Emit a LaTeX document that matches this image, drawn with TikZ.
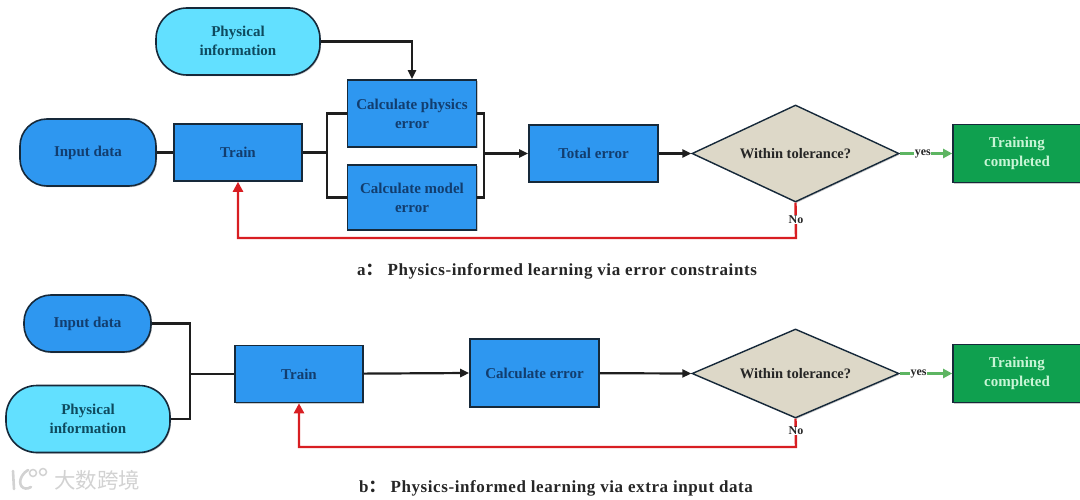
\documentclass[tikz,border=0pt]{standalone}
\usepackage{fontspec}
\setmainfont{Liberation Serif}
\newfontfamily\cjk{Noto Sans CJK SC}
\newfontfamily\capfont[LetterSpace=3.5]{Liberation Serif}
\usetikzlibrary{arrows.meta,shapes.geometric,shadows}
\definecolor{bluefill}{HTML}{2E97F0}
\definecolor{cyanfill}{HTML}{62E0FF}
\definecolor{tanfill}{HTML}{DDD8C8}
\definecolor{greenfill}{HTML}{0FA04F}
\definecolor{edgedark}{HTML}{16293A}
\definecolor{bluetext}{HTML}{123D6E}
\definecolor{cyantext}{HTML}{0E4A5E}
\definecolor{greentext}{HTML}{C9F5D6}
\definecolor{redline}{HTML}{D81E22}
\definecolor{greenline}{HTML}{5DB562}
\definecolor{darkline}{HTML}{1E1E1E}
\definecolor{markgray}{HTML}{D2D2D2}
\tikzset{
  soft/.style={drop shadow={shadow xshift=1pt,shadow yshift=-1.2pt,opacity=.35,fill=black!60}},
  base/.style={draw=edgedark,line width=1.6pt,align=center,inner sep=0pt,
    font=\fontsize{15}{19}\selectfont\bfseries,soft},
  bluebox/.style={base,fill=bluefill,text=bluetext,minimum width=128pt},
  greenbox/.style={base,fill=greenfill,text=greentext,minimum width=128pt,minimum height=58pt},
  bluepill/.style={base,fill=bluefill,text=bluetext,rounded corners=27pt},
  cyanpill/.style={base,fill=cyanfill,text=cyantext,rounded corners=31pt,minimum width=164pt,minimum height=67pt},
  decision/.style={diamond,draw=edgedark,line width=1.4pt,fill=tanfill,text=black!85,inner sep=0pt,
    font=\fontsize{14.5}{16}\selectfont\bfseries,minimum width=207pt,soft},
  captiontext/.style={font=\fontsize{17}{18}\selectfont\bfseries\capfont,text=black!85,inner sep=0pt},
  tag/.style={font=\fontsize{12}{13}\selectfont\bfseries,text=black!85,inner sep=0.5pt,fill=white},
  link/.style={draw=darkline,line width=2.2pt},
  flow/.style={link,-{Triangle[length=9pt,width=8pt]}},
  backflow/.style={draw=redline,line width=2.4pt,-{Triangle[length=10pt,width=10pt]}},
  okflow/.style={draw=greenline,line width=2.2pt,-{Triangle[length=9pt,width=9pt]}},
}
\begin{document}
\begin{tikzpicture}[x=1pt,y=-1pt]
\useasboundingbox (0,0) rectangle (1080,500);
% panel a
\node[cyanpill] (pa) at (238,41.5) {\raisebox{1pt}{Physical}\\\raisebox{1pt}{information}};
\node[bluepill,minimum width=136pt,minimum height=67pt] (ia) at (88,152.5) {\raisebox{-1pt}{Input data}};
\node[bluebox,minimum height=57pt] (ta) at (238,152.5) {Train};
\node[bluebox,minimum height=67pt,minimum width=129pt] (ce) at (412,113.5) {Calculate physics\\error};
\node[bluebox,minimum height=65pt,minimum width=129pt] (me) at (412,197.5) {Calculate model\\error};
\node[bluebox,minimum height=57pt,minimum width=129pt] (te) at (593.5,153.5) {Total error};
\node[decision,minimum height=97pt] (da) at (795.5,153.5) {\makebox[0pt]{Within tolerance?}};
\node[greenbox] (ga) at (1017,153.5) {\raisebox{-2pt}{Training}\\\raisebox{-2pt}{completed}};
\coordinate (la) at (327,152.5);
\coordinate (ra) at (484,153.5);
\coordinate (ca) at (796,238);
\coordinate (cta) at (412,41.5);
\draw[link] (ia) -- (ta);
\draw[link] (ta) -- (la);
\draw[link] (ce.west) -| (la) |- (me.west);
\draw[link] (ce.east) -| (ra) |- (me.east);
\draw[flow] (ra) -- (te.west);
\draw[flow] (te) -- (da.west);
\draw[flow] (pa.east) -- (cta) -- (ce.north);
\draw[okflow] (da.east) -- node[tag,pos=.44] {yes} (ga.west);
\draw[backflow] (da.south) -- (ca) -| (ta.south);
\node[tag] (na) at (796,219.5) {No};
\node[captiontext] (capa) at (557,271.5) {a{\cjk：}\hspace{5pt}Physics-informed learning via error constraints};
% panel b
\node[bluepill,minimum width=127pt,minimum height=57pt] (ib) at (87.5,323.5) {Input data};
\node[cyanpill] (pb) at (88,419) {Physical\\information};
\node[bluebox,minimum height=57pt] (tb) at (299,374) {Train};
\node[bluebox,minimum height=68pt,minimum width=129pt] (eb) at (534.5,373) {Calculate error};
\node[decision,minimum height=89pt] (db) at (795.5,373.5) {\makebox[0pt]{Within tolerance?}};
\node[greenbox] (gb) at (1017,373.5) {\raisebox{-2pt}{Training}\\\raisebox{-2pt}{completed}};
\coordinate (lb) at (190,374);
\coordinate (cb) at (796,447);
\draw[link] (ib.east) -| (lb) |- (pb.east);
\draw[link] (lb) -- (tb.west);
\draw[flow] (tb) -- (eb.west);
\draw[flow] (eb) -- (db.west);
\draw[okflow] (db.east) -- node[tag,pos=.36] {yes} (gb.west);
\draw[backflow] (db.south) -- (cb) -| (tb.south);
\node[tag] (nb) at (796,431) {No};
\node[captiontext] (capb) at (556,488) {b{\cjk：}\hspace{5pt}Physics-informed learning via extra input data};
% watermark
\node[inner sep=0pt,text=markgray,font=\cjk\fontsize{21.5}{23}\selectfont] (wm) at (97,480) {大数跨境};
\draw[markgray,line width=2.6pt,line cap=round] (13,471) -- (14,489);
\draw[markgray,line width=2.6pt,line cap=round] (31,487) .. controls (23,492) and (17,484) .. (22,476) .. controls (24,473) and (26,471) .. (28,470);
\draw[markgray,line width=1.5pt] (33,473) circle (3.5pt) (43,472) circle (3.5pt);
\end{tikzpicture}
\end{document}
